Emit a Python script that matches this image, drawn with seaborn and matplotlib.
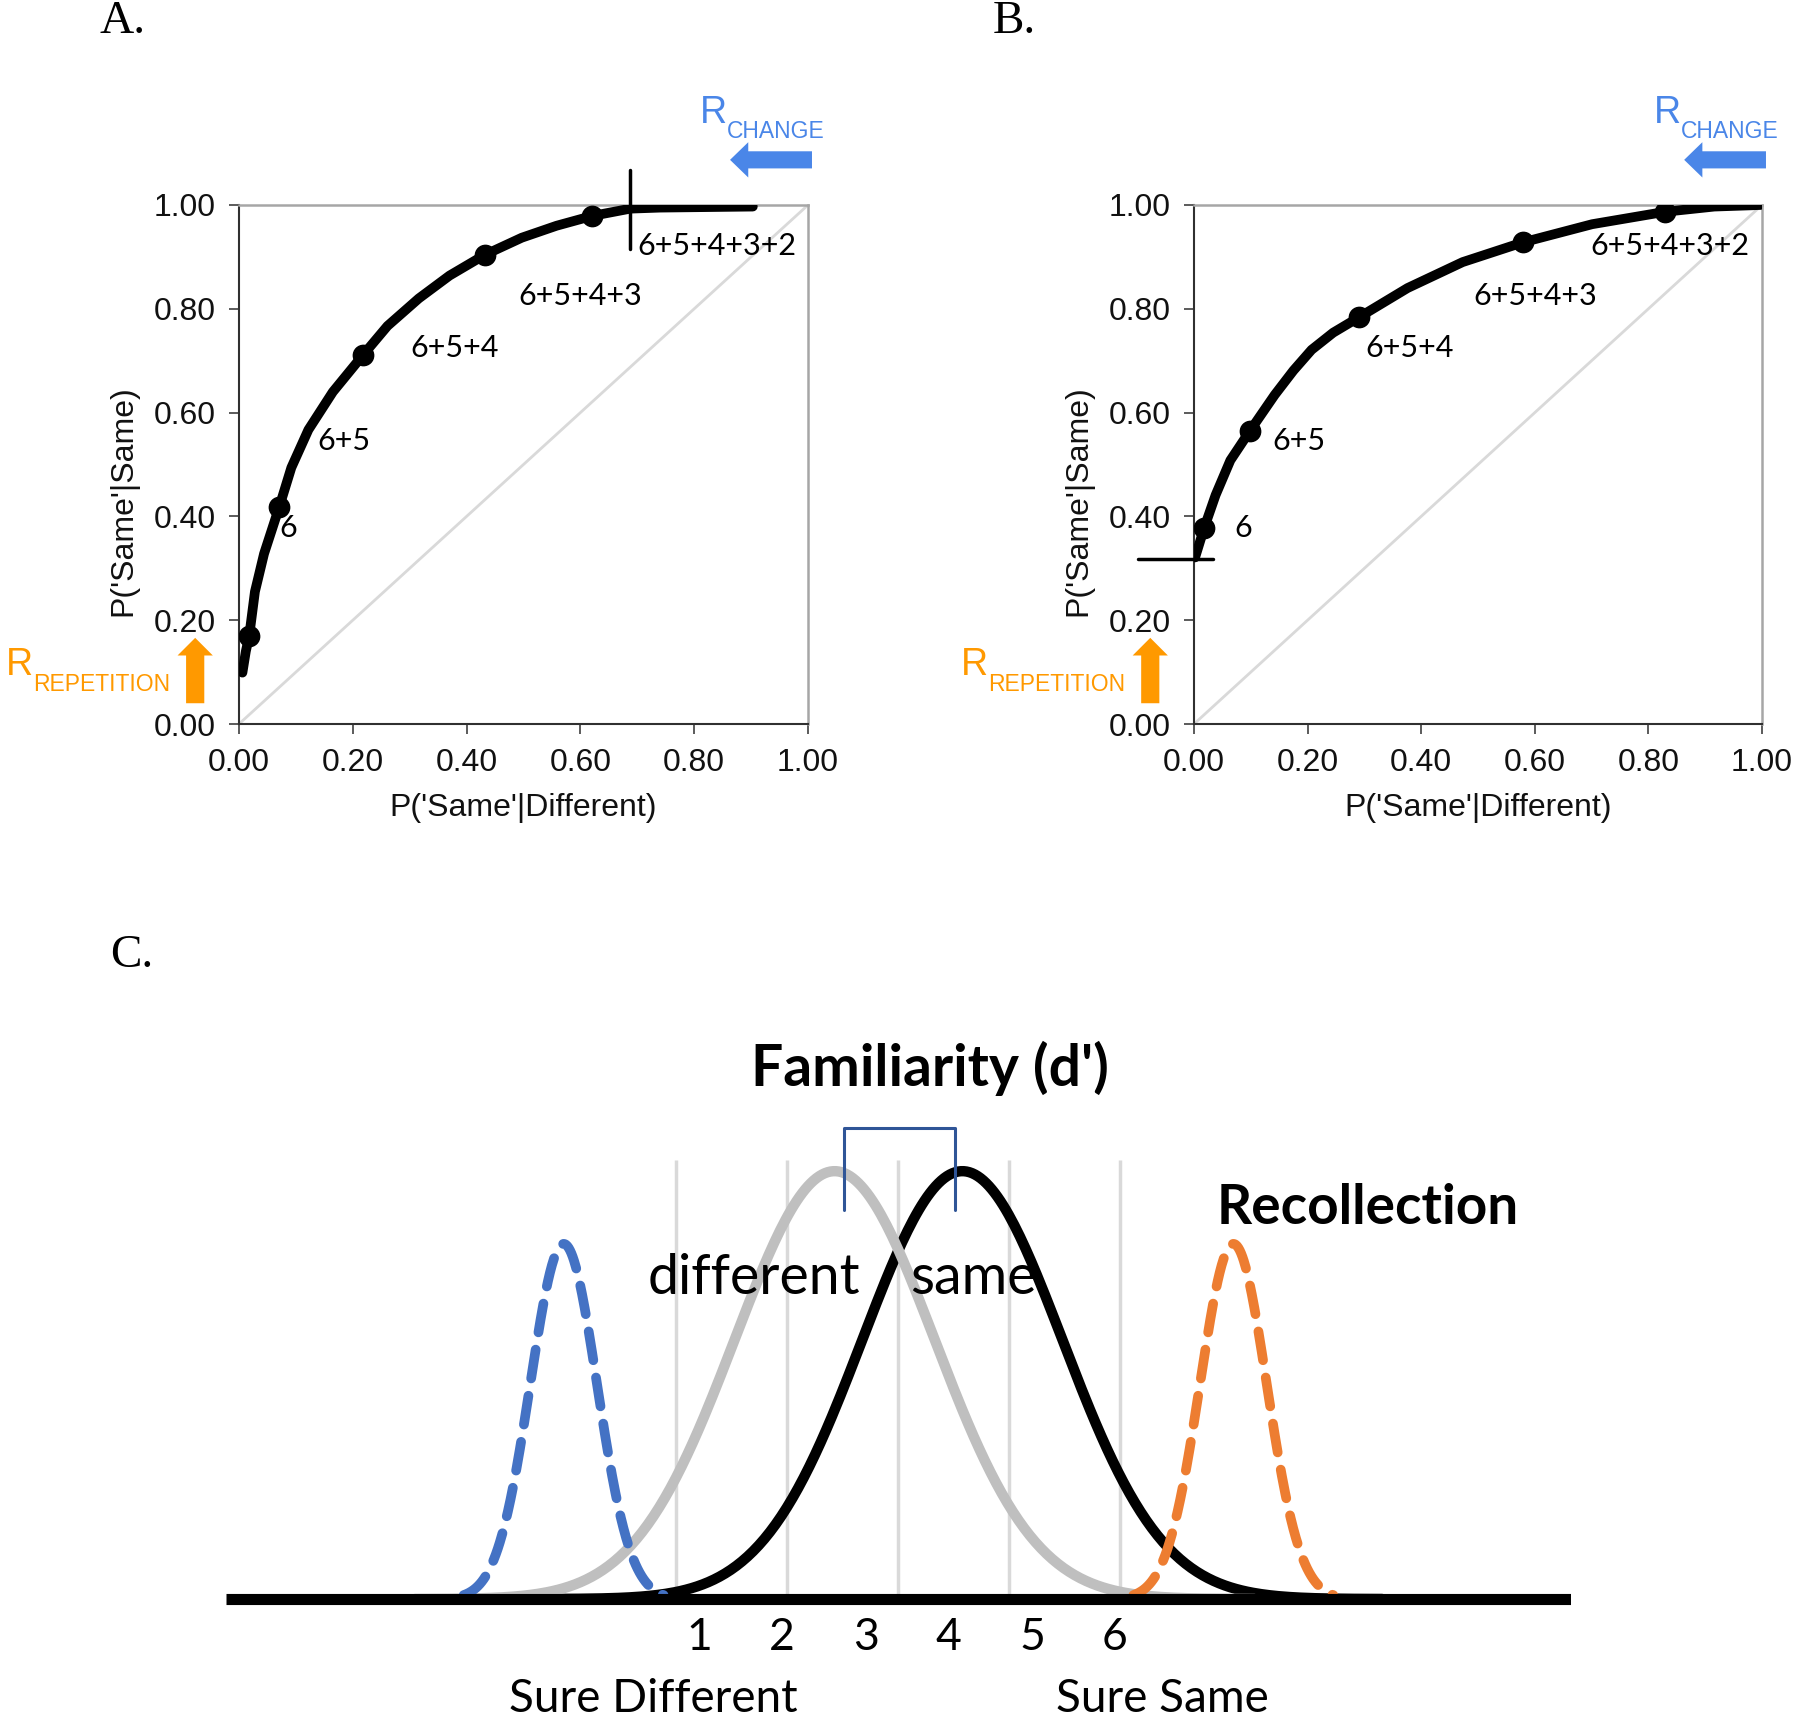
import numpy as np
import seaborn as sns
import matplotlib.pyplot as plt

sns.set_theme(style="white")
plt.rcParams['font.family'] = ['Liberation Sans', 'DejaVu Sans']
plt.rcParams['text.color'] = 'black'
plt.rcParams['axes.labelcolor'] = 'black'

# ---- ROC data ----
# panel A: fitted ROC curve and the cumulative confidence points
roc_a_x = [0.006, 0.012, 0.018, 0.028, 0.044, 0.071, 0.092, 0.122, 0.165, 0.218, 0.261,
           0.316, 0.370, 0.432, 0.497, 0.558, 0.621, 0.688, 0.740, 0.903]
roc_a_y = [0.099, 0.140, 0.170, 0.255, 0.328, 0.419, 0.494, 0.567, 0.640, 0.711, 0.767,
           0.820, 0.864, 0.904, 0.937, 0.960, 0.979, 0.993, 0.995, 0.997]
pts_a_x = [0.018, 0.071, 0.218, 0.432, 0.621]
pts_a_y = [0.170, 0.419, 0.711, 0.904, 0.979]

# panel B
roc_b_x = [0.002, 0.018, 0.038, 0.064, 0.098, 0.142, 0.175, 0.207, 0.245, 0.291, 0.376,
           0.473, 0.579, 0.701, 0.830, 0.916, 0.997]
roc_b_y = [0.321, 0.378, 0.441, 0.508, 0.564, 0.634, 0.681, 0.721, 0.754, 0.784, 0.840,
           0.890, 0.928, 0.963, 0.987, 0.997, 1.000]
pts_b_x = [0.018, 0.098, 0.291, 0.579, 0.830]
pts_b_y = [0.378, 0.564, 0.784, 0.928, 0.987]

conf_labels = ['6', '6+5', '6+5+4', '6+5+4+3', '6+5+4+3+2']
label_a_x = [0.086, 0.185, 0.378, 0.600, 0.700]
label_b_x = [0.086, 0.184, 0.379, 0.600, 0.838]
label_y = [0.378, 0.546, 0.724, 0.824, 0.921]

r_change_a = 0.688      # recollection of change marker (x)
r_repeat_b = 0.318      # recollection of repetition marker (y)

ticks = [0.0, 0.2, 0.4, 0.6, 0.8, 1.0]

# ---- panel C: signal detection model ----
criteria = [-2, -1, 0, 1, 2]
rating_x = [-1.79, -1.05, -0.29, 0.45, 1.21, 1.95]
rating_labels = ['1', '2', '3', '4', '5', '6']
fam_mean = {'different': -0.57, 'same': 0.58}
fam_sd = 0.9
rec_mean = {'change': -3.01, 'repetition': 3.02}
rec_sd = 0.30
rec_height = 0.83

BLUE = '#4A86E8'
ORANGE = '#FF9900'

W, H = 1800, 1718
fig = plt.figure(figsize=(W / 100, H / 100), dpi=100)


def px_axes(x0, y0, x1, y1):
    return fig.add_axes([x0 / W, 1 - y1 / H, (x1 - x0) / W, (y1 - y0) / H])


def roc_panel(ax, cx, cy, px, py, lab_x):
    ax.plot([0, 1], [0, 1], color='#D9D9D9', lw=2, zorder=1)
    sns.lineplot(x=cx, y=cy, ax=ax, sort=False, color='black', lw=7,
                 solid_capstyle='round', solid_joinstyle='round', zorder=3)
    sns.scatterplot(x=px, y=py, ax=ax, color='black', s=210, edgecolor='black', zorder=4)
    for lx, ly, t in zip(lab_x, label_y, conf_labels):
        ha = 'left' if t == '6+5+4+3+2' and lx < 0.75 else 'center'
        ax.text(lx, ly, t, ha=ha, va='center', fontsize=22, family='Lato', color='black')
    ax.set_xlim(0, 1)
    ax.set_ylim(0, 1)
    ax.set_xticks(ticks)
    ax.set_yticks(ticks)
    ax.set_xticklabels([f'{t:.2f}' for t in ticks])
    ax.set_yticklabels([f'{t:.2f}' for t in ticks])
    ax.tick_params(axis='both', labelsize=23, length=7, width=1.2, color='#404040',
                   labelcolor='#111111', direction='out', pad=10, bottom=True, left=True)
    for s in ['left', 'bottom']:
        ax.spines[s].set_color('#303030')
        ax.spines[s].set_linewidth(1.5)
    for s in ['top', 'right']:
        ax.spines[s].set_color('#A6A6A6')
        ax.spines[s].set_linewidth(1.8)
    ax.set_xlabel("P('Same'|Different)", fontsize=23, labelpad=11, color='#111111')
    ax.set_ylabel("P('Same'|Same)", fontsize=23, labelpad=11, color='#111111')
    ax.yaxis.label.set_y(0.43)

    # R change arrow (blue) and R repetition arrow (orange)
    ax.arrow(1.007, 1.087, -0.144, 0, width=0.033, head_width=0.068, head_length=0.032,
             length_includes_head=True, color=BLUE, clip_on=False, lw=0)
    ax.text(0.810, 1.158, 'R', fontsize=27, color=BLUE, ha='left', va='baseline')
    ax.text(0.858, 1.129, 'CHANGE', fontsize=16.5, color=BLUE, ha='left', va='baseline')
    ax.arrow(-0.077, 0.040, 0, 0.126, width=0.032, head_width=0.062, head_length=0.034,
             length_includes_head=True, color=ORANGE, clip_on=False, lw=0)
    ax.text(-0.410, 0.094, 'R', fontsize=27, color=ORANGE, ha='left', va='baseline')
    ax.text(-0.362, 0.064, 'REPETITION', fontsize=16.5, color=ORANGE, ha='left', va='baseline')


ax_a = px_axes(239, 205, 808, 724)
roc_panel(ax_a, roc_a_x, roc_a_y, pts_a_x, pts_a_y, label_a_x)
ax_a.plot([r_change_a, r_change_a], [0.916, 1.067], color='black', lw=2.5, clip_on=False, zorder=5)

ax_b = px_axes(1194, 205, 1762, 724)
roc_panel(ax_b, roc_b_x, roc_b_y, pts_b_x, pts_b_y, label_b_x)
ax_b.plot([-0.099, 0.033], [r_repeat_b, r_repeat_b], color='black', lw=2.5, clip_on=False, zorder=5)

fig.text(99 / W, 1 - 33 / H, 'A.', family='Liberation Serif', fontsize=34, va='baseline')
fig.text(993 / W, 1 - 33 / H, 'B.', family='Liberation Serif', fontsize=34, va='baseline')
fig.text(110 / W, 1 - 967 / H, 'C.', family='Liberation Serif', fontsize=34, va='baseline')

# ---- panel C ----
ax_c = px_axes(226, 1000, 1571, 1718)
ax_c.set_xlim(-6.05, 6.06)
ax_c.set_ylim(-0.278, 1.40)
ax_c.axis('off')

ax_c.vlines(criteria, 0, 1.026, color='#D9D9D9', lw=2.5, zorder=1)


def gauss(m, sd, h, k):
    xs = np.linspace(m - k * sd, m + k * sd, 300)
    return xs, h * np.exp(-0.5 * ((xs - m) / sd) ** 2)


xs, ys = gauss(fam_mean['same'], fam_sd, 1.0, 4.2)
ax_c.plot(xs, ys, color='black', lw=7.5, zorder=2)
xs, ys = gauss(fam_mean['different'], fam_sd, 1.0, 4.2)
ax_c.plot(xs, ys, color='#BFBFBF', lw=7.5, zorder=3)
xs, ys = gauss(rec_mean['change'], rec_sd, rec_height, 3.0)
ax_c.plot(xs, ys, color='#4472C4', lw=7, ls=(0, (3.0, 1.8)), dash_capstyle='round', zorder=4)
xs, ys = gauss(rec_mean['repetition'], rec_sd, rec_height, 3.0)
ax_c.plot(xs, ys, color='#ED7D31', lw=7, ls=(0, (3.0, 1.8)), dash_capstyle='round', zorder=4)

ax_c.hlines(0, -6.05, 6.06, color='black', lw=8, zorder=6)

# d' bracket
ax_c.plot([-0.49, -0.49, 0.51, 0.51], [0.91, 1.10, 1.10, 0.91], color='#2F5597', lw=2.2, zorder=5)

for x, t in zip(rating_x, rating_labels):
    ax_c.text(x, -0.091, t, ha='center', va='center', fontsize=32, family='Lato', color='black')
ax_c.text(-2.20, -0.234, 'Sure Different', ha='center', va='center', fontsize=33,
          family='Lato', color='black')
ax_c.text(2.38, -0.234, 'Sure Same', ha='center', va='center', fontsize=33,
          family='Lato', color='black')
ax_c.text(0.29, 1.24, "Familiarity (d')", ha='center', va='center', fontsize=41,
          family='Lato', weight='bold', color='black')
ax_c.text(4.23, 0.915, 'Recollection', ha='center', va='center', fontsize=39.5,
          family='Lato', weight='bold', color='black')
ax_c.text(-1.30, 0.75, 'different', ha='center', va='center', fontsize=40,
          family='Lato', color='black', zorder=7)
ax_c.text(0.68, 0.75, 'same', ha='center', va='center', fontsize=40,
          family='Lato', color='black', zorder=7)

fig.savefig('out.png', dpi=100)
